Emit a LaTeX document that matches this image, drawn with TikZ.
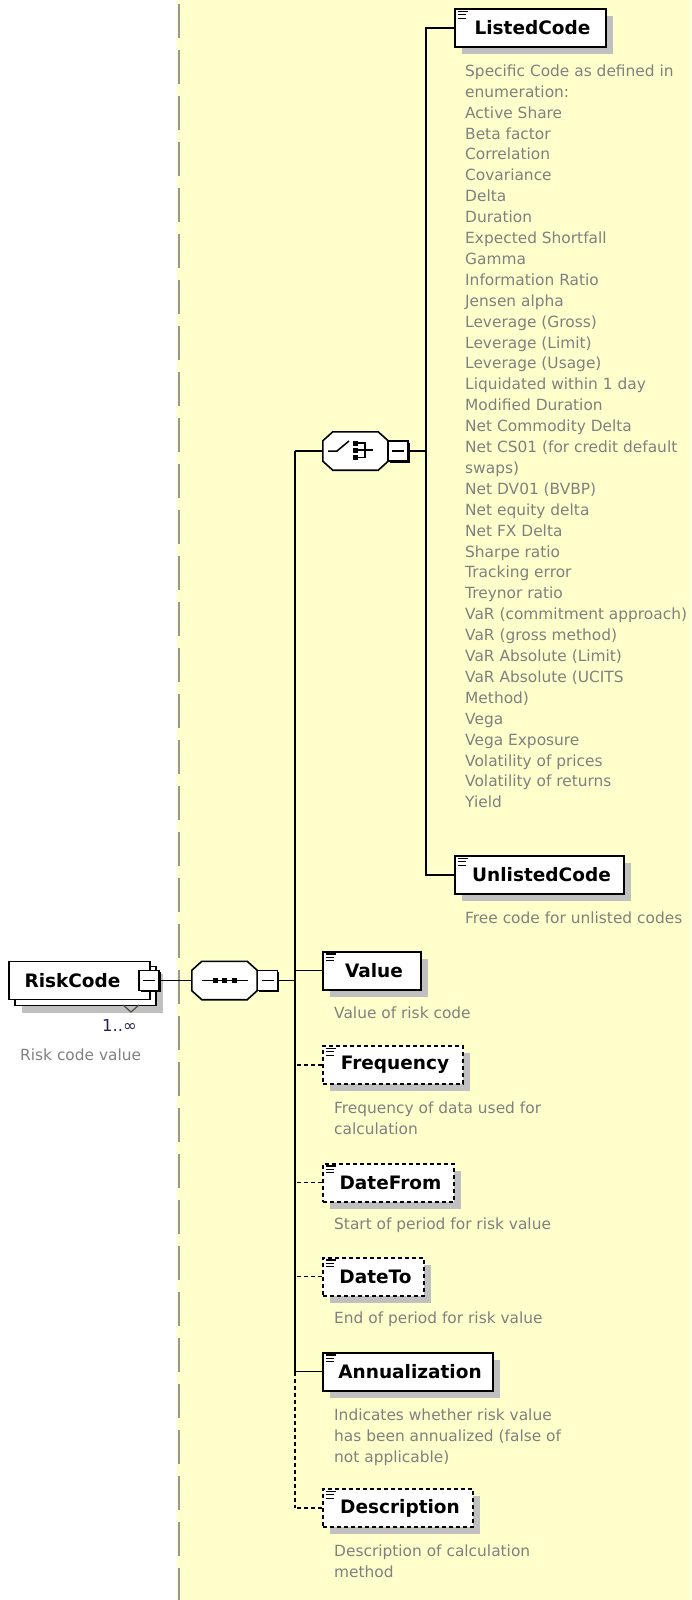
\documentclass[tikz,border=0pt]{standalone}
\usepackage{fontspec}
\setmainfont{DejaVu Sans}
\usetikzlibrary{shadows,calc}
\definecolor{bgyellow}{RGB}{255,255,204}
\definecolor{shade}{RGB}{192,192,192}
\definecolor{desc}{RGB}{128,128,128}
\definecolor{mult}{RGB}{48,32,80}
\definecolor{sepgray}{RGB}{150,150,150}
\newcommand\elemicon[1]{%
  \draw[line width=1.1pt] ($(#1.north west)+(3.5,3.5)$) -- ++(10,0);
  \draw[line width=1.1pt] ($(#1.north west)+(3.5,6.8)$) -- ++(8,0);
  \draw[line width=1.1pt] ($(#1.north west)+(3.5,10.1)$) -- ++(8,0);}
\newcommand\octopath[1]{($(#1.north west)+(10,0)$) -- ($(#1.north east)+(-10,0)$) -- ($(#1.north east)+(0,9)$) -- ($(#1.south east)+(0,-9)$) -- ($(#1.south east)+(-10,0)$) -- ($(#1.south west)+(10,0)$) -- ($(#1.south west)+(0,-9)$) -- ($(#1.north west)+(0,9)$) -- cycle}
\newcommand\octo[1]{%
  \fill[shade, shift={(7,7)}] \octopath{#1};
  \draw[line width=1.6pt, fill=white] \octopath{#1};}
\begin{document}
\begin{tikzpicture}[x=1pt,y=-1pt,
  elem/.style={draw, line width=2pt, fill=white, minimum height=38pt, inner sep=0pt,
    font=\fontsize{18.5}{20}\selectfont\bfseries,
    general shadow={fill=shade, shadow xshift=7pt, shadow yshift=-7pt},
    execute at begin node={\hspace*{4pt}}},
  optelem/.style={elem, dash pattern=on 4pt off 3pt},
  desctext/.style={anchor=north west, inner sep=0pt, align=left, text=desc,
    font=\fontsize{15.4}{20.9}\selectfont},
  conn/.style={line width=1.6pt},
  optconn/.style={conn, dash pattern=on 4pt off 3pt},
  minusbox/.style={draw, fill=white, line width=1.5pt, minimum width=20pt, minimum height=20pt,
    inner sep=0pt, general shadow={fill=black, shadow xshift=1.5pt, shadow yshift=-1.5pt}},
  compo/.style={minimum width=65pt, minimum height=38pt, inner sep=0pt},
  sepline/.style={sepgray, line width=1.6pt, dash pattern=on 34pt off 12pt}]
\useasboundingbox (0,0) rectangle (691,1600);
\fill[bgyellow] (177,0) rectangle (691,1600);
\draw[sepline] (179,4) -- (179,1600);

% root element
\node[draw, fill=white, line width=1.8pt, minimum width=141pt, minimum height=39pt,
  general shadow={fill=shade, shadow xshift=7pt, shadow yshift=-7pt}] (rback) at (85.5,986) {};
\draw[line width=1.2pt, black!70] (123,1005) -- (131,1012) -- (139,1005);
\node[draw, fill=white, line width=1.8pt, minimum width=141pt, minimum height=38pt, inner sep=0pt,
  font=\fontsize{18.5}{20}\selectfont\bfseries] (risk) at (79.5,980.5) {RiskCode\hspace*{14pt}};
\node[minusbox] (riskm) at (149,980.5) {\rule{12pt}{1.4pt}};
\node[anchor=base west, inner sep=0pt, text=mult, font=\fontsize{16.5}{18}\selectfont] (mult) at (102,1031) {1..∞};
\node[desctext] (riskdesc) at (20,1048.8) {Risk code value};

% sequence compositor
\node[compo] (seq) at (224.5,980.5) {};
\octo{seq}
\draw[line width=1.5pt] ($(seq.west)+(10,0)$) -- ($(seq.east)+(-9,0)$);
\foreach \dx in {-9.5,0,9.5} \fill ($(seq.center)+(\dx-2.5,-2.5)$) rectangle ++(5,5);
\node[minusbox] (seqm) at (267.5,980.5) {\rule{12pt}{1.4pt}};
\draw[conn] (riskm.east) -- (seq.west);

% trunk
\coordinate (ttop) at (295,451);
\coordinate (tbot) at (295,1508);

% choice compositor
\node[compo] (choice) at (355.5,451) {};
\octo{choice}
\draw[line width=1.5pt] ($(choice.center)+(-27.5,0)$) -- ($(choice.center)+(-18.5,0)$) -- ($(choice.center)+(-6.5,-10)$);
\foreach \dy in {-8,-1,6.5} \fill ($(choice.center)+(-2.5,\dy-2.5)$) rectangle ++(5,5);
\draw[line width=1.5pt] ($(choice.center)+(2.5,-8)$) -- ($(choice.center)+(9.5,-8)$) -- ($(choice.center)+(9.5,6.5)$) -- ($(choice.center)+(2.5,6.5)$);
\draw[line width=1.5pt] ($(choice.center)+(2.5,-1)$) -- ($(choice.center)+(17.5,-1)$);
\node[minusbox] (choicem) at (398,451) {\rule{12pt}{1.4pt}};
\coordinate (chx) at (426,451);

% choice children
\node[elem, minimum width=151pt] (listed) at (530.5,28) {ListedCode};
\elemicon{listed}
\node[desctext] (listeddesc) at (465,64.4) {Specific Code as defined in\\enumeration:\\Active Share\\Beta factor\\Correlation\\Covariance\\Delta\\Duration\\Expected Shortfall\\Gamma\\Information Ratio\\Jensen alpha\\Leverage (Gross)\\Leverage (Limit)\\Leverage (Usage)\\Liquidated within 1 day\\Modified Duration\\Net Commodity Delta\\Net CS01 (for credit default\\swaps)\\Net DV01 (BVBP)\\Net equity delta\\Net FX Delta\\Sharpe ratio\\Tracking error\\Treynor ratio\\VaR (commitment approach)\\VaR (gross method)\\VaR Absolute (Limit)\\VaR Absolute (UCITS\\Method)\\Vega\\Vega Exposure\\Volatility of prices\\Volatility of returns\\Yield};
\node[elem, minimum width=169pt] (unlisted) at (539.5,875) {UnlistedCode};
\elemicon{unlisted}
\node[desctext] (unlisteddesc) at (465,911.8) {Free code for unlisted codes};

% sequence children
\node[elem, minimum width=98pt] (value) at (372,970.5) {Value};
\elemicon{value}
\node[desctext] (valuedesc) at (334,1006.8) {Value of risk code};
\node[optelem, minimum width=140pt] (freq) at (393,1065) {Frequency};
\elemicon{freq}
\node[desctext] (freqdesc) at (334,1101.8) {Frequency of data used for\\calculation};
\node[optelem, minimum width=131pt] (datefrom) at (388.5,1182.5) {DateFrom};
\elemicon{datefrom}
\node[desctext] (datefromdesc) at (334,1217.8) {Start of period for risk value};
\node[optelem, minimum width=101pt] (dateto) at (373.5,1276.5) {DateTo};
\elemicon{dateto}
\node[desctext] (datetodesc) at (334,1311.8) {End of period for risk value};
\node[elem, minimum width=170pt] (annual) at (408,1371.5) {Annualization};
\elemicon{annual}
\node[desctext] (annualdesc) at (334,1408.8) {Indicates whether risk value\\has been annualized (false of\\not applicable)};
\node[optelem, minimum width=150pt] (descr) at (398,1508) {Description};
\elemicon{descr}
\node[desctext] (descrdesc) at (334,1544.8) {Description of calculation\\method};

% connectors
\coordinate (tann) at (annual.west -| ttop);
\draw[conn] (ttop) -- (tann);
\draw[optconn] (tann) -- (tbot);
\draw[conn] (seqm.east) -- (seqm.east -| ttop);
\draw[conn] (choice.west) -- (choice.west -| ttop);
\draw[conn] (choicem.east) -- (chx);
\draw[conn] (listed.west) -| (chx);
\draw[conn] (unlisted.west) -| (chx);
\draw[conn] (value.west) -- (value.west -| ttop);
\draw[optconn] (freq.west) -- (freq.west -| ttop);
\draw[optconn] (datefrom.west) -- (datefrom.west -| ttop);
\draw[optconn] (dateto.west) -- (dateto.west -| ttop);
\draw[conn] (annual.west) -- (tann);
\draw[optconn] (descr.west) -- (tbot);
\end{tikzpicture}
\end{document}
